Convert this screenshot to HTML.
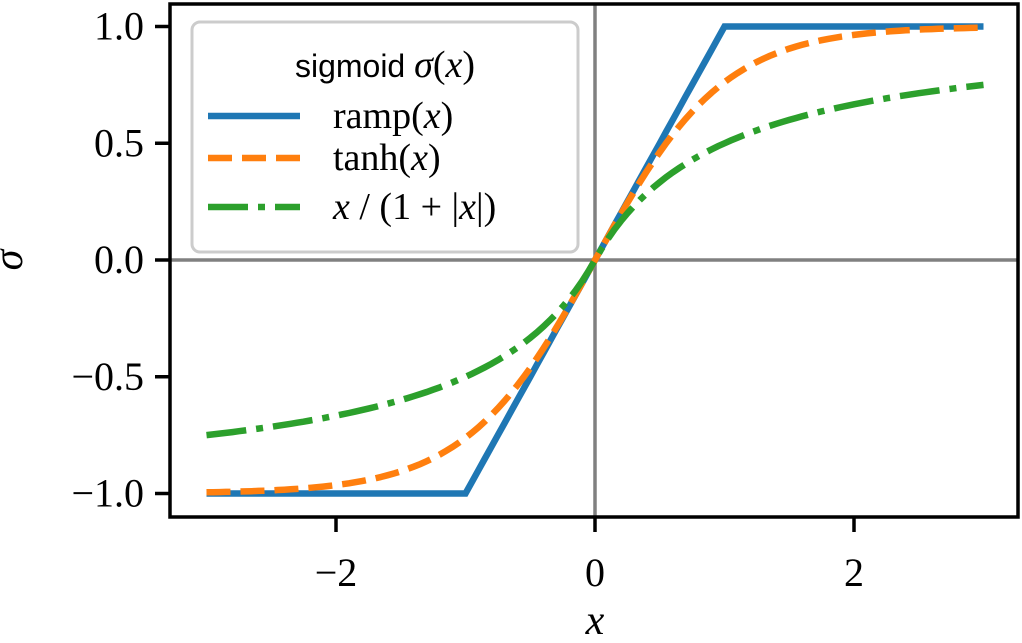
<!DOCTYPE html>
<html><head><meta charset="utf-8"><style>
body{margin:0;background:#fff;}
svg text{font-family:"Liberation Serif",serif;}
</style></head><body>
<svg width="1022" height="638" viewBox="0 0 1022 638">
<g id="plot"></g>
</svg>
<script>
const xTicks=[-2,0,2];
const xTickLabels=["\u22122","0","2"];
const yTicks=[-1,-0.5,0,0.5,1];
const yTickLabels=["\u22121.0","\u22120.5","0.0","0.5","1.0"];
const xs=[];for(let i=0;i<=120;i++)xs.push(-3+i*0.05);
const rampY=xs.map(v=>Math.max(-1,Math.min(1,v)));
const tanhY=xs.map(v=>Math.tanh(v));
const softY=xs.map(v=>v/(1+Math.abs(v)));
const L=170,R=1018,T=4,B=517;
const sx=v=>595+v*129.5;
const sy=v=>260-v*233.5;
const NS="http://www.w3.org/2000/svg";
const g=document.getElementById('plot');
function mk(tag,attrs,parent){const e=document.createElementNS(NS,tag);for(const k in attrs)e.setAttribute(k,attrs[k]);(parent||g).appendChild(e);return e;}
let e;
e=mk('line',{x1:sx(0),x2:sx(0),y1:T,y2:B,stroke:'#808080','stroke-width':3.5});


e=mk('line',{x1:L,x2:R,y1:sy(0),y2:sy(0),stroke:'#808080','stroke-width':3.5});


function pathOf(ys){return xs.map((v,i)=>(i?'L':'M')+sx(v).toFixed(1)+' '+sy(ys[i]).toFixed(1)).join(' ');}
e=mk('path',{d:pathOf(rampY),fill:'none',stroke:'#1f77b4','stroke-width':6.5});


e=mk('path',{d:pathOf(tanhY),fill:'none',stroke:'#ff7f0e','stroke-width':6.5,'stroke-dasharray':'24 10'});


e=mk('path',{d:pathOf(softY),fill:'none',stroke:'#2ca02c','stroke-width':6.5,'stroke-dasharray':'40 10 7 10'});


e=mk('rect',{x:L,y:T,width:R-L,height:B-T,fill:'none',stroke:'#000','stroke-width':3.5});


xTicks.forEach((t,i)=>{
 e=mk('line',{x1:sx(t),x2:sx(t),y1:B,y2:B+15,stroke:'#000','stroke-width':3.5});
 
 
 e=mk('text',{x:sx(t),y:586,'font-size':40,'text-anchor':'middle'});e.textContent=xTickLabels[i];
 
 
});
yTicks.forEach((t,i)=>{
 e=mk('line',{x1:L-15,x2:L,y1:sy(t),y2:sy(t),stroke:'#000','stroke-width':3.5});
 
 
 e=mk('text',{x:144,y:sy(t)+13,'font-size':40,'text-anchor':'end'});e.textContent=yTickLabels[i];
 
 
});
e=mk('text',{x:595,y:634,'font-size':42,'font-style':'italic','text-anchor':'middle'});e.textContent='x';


e=mk('text',{x:0,y:0,'font-size':42,'font-style':'italic','text-anchor':'middle',transform:'translate(22,260) rotate(-90)'});e.textContent='σ';


const lg=mk('g',{});


mk('rect',{x:192,y:22,width:386,height:230,rx:8,fill:'#fff','fill-opacity':0.8,stroke:'#ccc','stroke-width':3},lg);
e=mk('text',{x:385,y:77,'font-size':32,'text-anchor':'middle',style:'font-family:"Liberation Sans",sans-serif'},lg);
e.innerHTML='sigmoid <tspan style="font-family:\'Liberation Serif\',serif" font-style="italic" font-size="38">σ</tspan><tspan style="font-family:\'Liberation Serif\',serif" font-size="38">(</tspan><tspan style="font-family:\'Liberation Serif\',serif" font-style="italic" font-size="38">x</tspan><tspan style="font-family:\'Liberation Serif\',serif" font-size="38">)</tspan>';


const entries=[['#1f77b4','none','ramp(<tspan font-style="italic">x</tspan>)',116,'legend-entry-ramp'],
['#ff7f0e','24 10','tanh(<tspan font-style="italic">x</tspan>)',158,'legend-entry-tanh'],
['#2ca02c','40 10 7 10','<tspan font-style="italic">x</tspan> / (1 + |<tspan font-style="italic">x</tspan>|)',207,'legend-entry-softsign']];
entries.forEach(en=>{
 const a={x1:208,x2:300,y1:en[3],y2:en[3],stroke:en[0],'stroke-width':6.5};
 if(en[1]!=='none')a['stroke-dasharray']=en[1];
 e=mk('line',a,lg);
 
 
 e=mk('text',{x:333,y:en[3]+12,'font-size':38},lg);e.innerHTML=en[2];
 
 
});
</script>
</body></html>
